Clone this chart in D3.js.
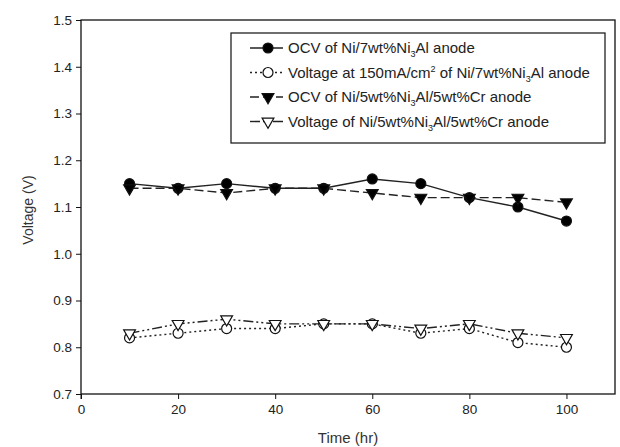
<!DOCTYPE html>
<html lang="en">
<head>
<meta charset="utf-8">
<script src="https://d3js.org/d3.v7.min.js"></script>
<title>Voltage vs time</title>
<style>
 body { margin: 0; background: #fff; }
 .axis path, .axis line { stroke: #111; }
 .axis text { font: 13.5px "Liberation Sans", Arial, sans-serif; fill: #222; }
</style>
</head>
<body>
<svg width="620" height="447"></svg>
<script>
// hours on the x axis
var hours = [10, 20, 30, 40, 50, 60, 70, 80, 90, 100];
// OCV of Ni/7wt%Ni3Al anode
var ocvNiAl = [1.15, 1.14, 1.15, 1.14, 1.14, 1.16, 1.15, 1.12, 1.10, 1.07];
// voltage at 150 mA/cm2, Ni/7wt%Ni3Al anode
var vNiAl = [0.82, 0.83, 0.84, 0.84, 0.85, 0.85, 0.83, 0.84, 0.81, 0.80];
// OCV of Ni/5wt%Ni3Al/5wt%Cr anode
var ocvNiAlCr = [1.14, 1.14, 1.13, 1.14, 1.14, 1.13, 1.12, 1.12, 1.12, 1.11];
// voltage of Ni/5wt%Ni3Al/5wt%Cr anode
var vNiAlCr = [0.83, 0.85, 0.86, 0.85, 0.85, 0.85, 0.84, 0.85, 0.83, 0.82];

var xTicks = [0, 20, 40, 60, 80, 100];
var yTicks = [0.7, 0.8, 0.9, 1.0, 1.1, 1.2, 1.3, 1.4, 1.5];

var svg = d3.select("svg"),
  margin = {top: 20, right: 5, bottom: 53, left: 81},
  width = +svg.attr("width") - margin.left - margin.right,
  height = +svg.attr("height") - margin.top - margin.bottom,
  g = svg.append("g").attr("transform", "translate(" + margin.left + "," + margin.top + ")");

var x = d3.scaleLinear().domain([0, 110]).range([0, width]);
var y = d3.scaleLinear().domain([0.7, 1.5]).range([height, 0]);

// frame
g.append("rect")
  .attr("width", width).attr("height", height)
  .attr("fill", "none").attr("stroke", "#111").attr("stroke-width", 1.3);

g.append("g")
  .attr("class", "axis")
  .attr("transform", "translate(0," + height + ")")
  .call(d3.axisBottom(x).tickValues(xTicks).tickSize(5).tickPadding(5).tickFormat(d3.format("d")))
  .call(function(a) { a.select(".domain").remove(); });

g.append("g")
  .attr("class", "axis")
  .call(d3.axisLeft(y).tickValues(yTicks).tickSize(5).tickPadding(4).tickFormat(d3.format(".1f")))
  .call(function(a) { a.select(".domain").remove(); });

// little stub below the origin
g.append("line")
  .attr("x1", 0).attr("x2", 0).attr("y1", height).attr("y2", height + 5)
  .attr("stroke", "#111");

svg.append("text")
  .attr("transform", "translate(33," + (margin.top + height / 2 + 3) + ") rotate(-90)")
  .attr("text-anchor", "middle")
  .style("font", "14px 'Liberation Sans', Arial, sans-serif").style("fill", "#333")
  .text("Voltage (V)");

svg.append("text")
  .attr("x", margin.left + x(55)).attr("y", 443)
  .attr("text-anchor", "middle")
  .style("font", "15px 'Liberation Sans', Arial, sans-serif").style("fill", "#333")
  .text("Time (hr)");

var series = [
  {values: ocvNiAl, dash: null, marker: "circle", fill: "#000"},
  {values: vNiAl, dash: "2,3", marker: "circle", fill: "#fff"},
  {values: ocvNiAlCr, dash: "9,4", marker: "tri", fill: "#000"},
  {values: vNiAlCr, dash: "10,3,2,3,2,3", marker: "tri", fill: "#fff"}
];

var line = d3.line()
  .x(function(d) { return x(d[0]); })
  .y(function(d) { return y(d[1]); });

var triSym = d3.symbol().type(d3.symbolTriangle).size(60);

function drawMarker(sel, s) {
  if (s.marker === "circle") {
    sel.append("circle").attr("r", 5);
  } else {
    sel.append("path").attr("d", triSym).attr("transform", "rotate(180)");
  }
  sel.selectAll("circle,path")
    .attr("fill", s.fill).attr("stroke", "#111").attr("stroke-width", 1.2);
}

series.forEach(function(s) {
  var pts = hours.map(function(h, i) { return [h, s.values[i]]; });
  g.append("path")
    .datum(pts)
    .attr("fill", "none")
    .attr("stroke", "#222")
    .attr("stroke-width", 1.4)
    .attr("stroke-dasharray", s.dash)
    .attr("d", line);
});

series.forEach(function(s) {
  hours.forEach(function(h, i) {
    var m = g.append("g").attr("transform", "translate(" + x(h) + "," + y(s.values[i]) + ")");
    drawMarker(m, s);
  });
});

// legend
var legend = svg.append("g").attr("transform", "translate(231,33)");
legend.append("rect")
  .attr("width", 374).attr("height", 110)
  .attr("fill", "#fff").attr("stroke", "#222").attr("stroke-width", 1.3);

var labels = [
  [["OCV of Ni/7wt%Ni", 0], ["3", 1], ["Al anode", 0]],
  [["Voltage at 150mA/cm", 0], ["2", -1], [" of Ni/7wt%Ni", 0], ["3", 1], ["Al anode", 0]],
  [["OCV of Ni/5wt%Ni", 0], ["3", 1], ["Al/5wt%Cr anode", 0]],
  [["Voltage of Ni/5wt%Ni", 0], ["3", 1], ["Al/5wt%Cr anode", 0]]
];

series.forEach(function(s, i) {
  var row = legend.append("g").attr("transform", "translate(0," + (15 + i * 24.5) + ")");
  row.append("line")
    .attr("x1", 19).attr("x2", 52)
    .attr("stroke", "#222").attr("stroke-width", 1.4)
    .attr("stroke-dasharray", s.dash);
  drawMarker(row.append("g").attr("transform", "translate(37,0)"), s);
  var t = row.append("text")
    .attr("x", 57).attr("dy", "0.35em")
    .style("font", "15px 'Liberation Sans', Arial, sans-serif").style("fill", "#222");
  var shift = 0;
  labels[i].forEach(function(p) {
    var ts = t.append("tspan").text(p[0]);
    if (p[1] === 1) ts.attr("dy", "4").style("font-size", "9px");
    else if (p[1] === -1) ts.attr("dy", "-6").style("font-size", "9px");
    else if (shift) ts.attr("dy", shift);
    shift = p[1] === 1 ? -4 : p[1] === -1 ? 6 : 0;
  });
});
</script>
</body>
</html>
